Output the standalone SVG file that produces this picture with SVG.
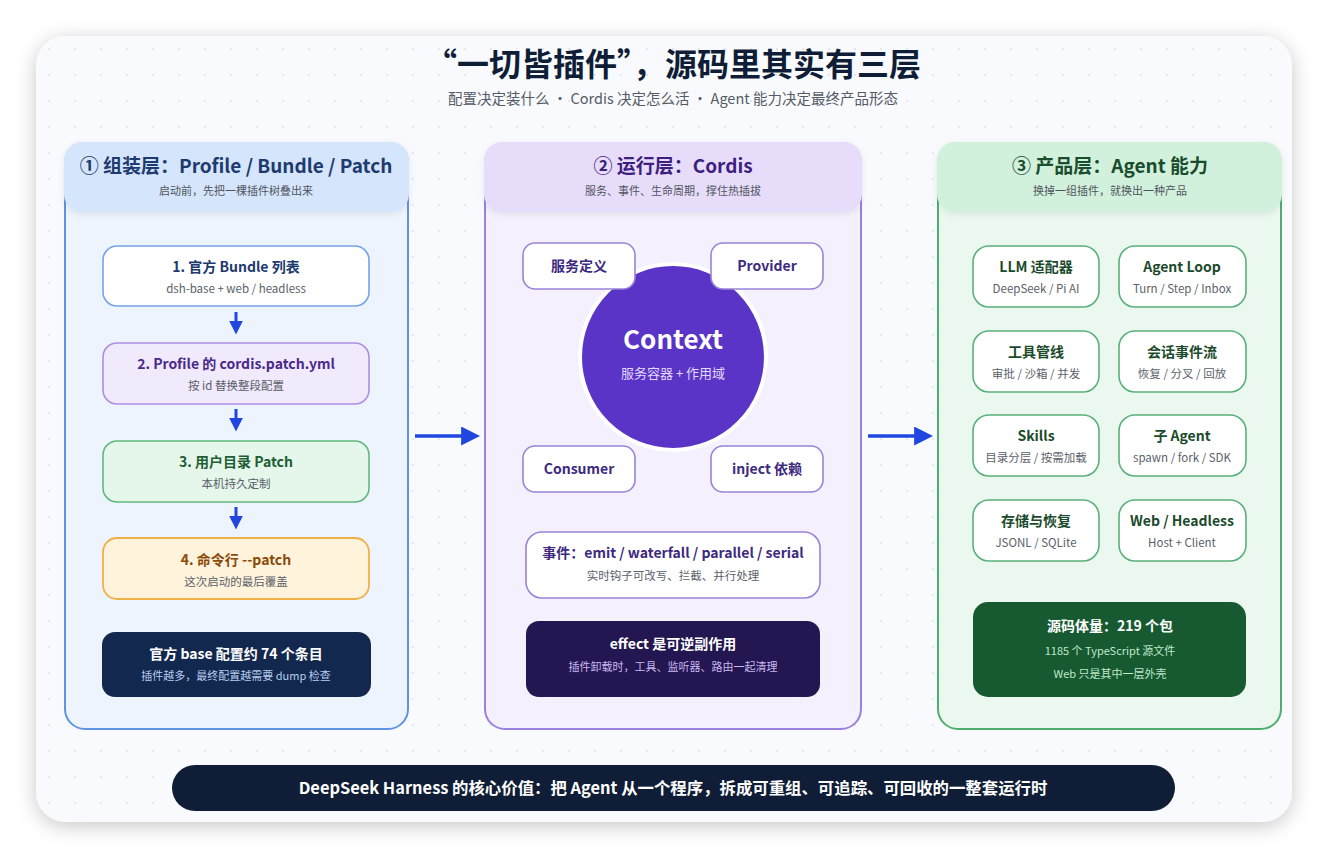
<svg xmlns="http://www.w3.org/2000/svg" width="1328" height="858" viewBox="0 0 1328 858">
<defs>
<filter id="sh" x="-10%" y="-10%" width="120%" height="120%"><feDropShadow dx="0" dy="4" stdDeviation="10" flood-color="#000" flood-opacity="0.22"/></filter>
<filter id="hs" x="-10%" y="-20%" width="120%" height="150%"><feDropShadow dx="0" dy="2" stdDeviation="3" flood-color="#000" flood-opacity="0.08"/></filter>
<pattern id="dots" width="26" height="26" patternUnits="userSpaceOnUse" x="36" y="36"><circle cx="13" cy="13" r="1.1" fill="#dde3ec"/></pattern>
<marker id="ahs" viewBox="0 0 10 10" refX="1" refY="5" markerWidth="14" markerHeight="14" markerUnits="userSpaceOnUse" orient="auto"><path d="M0,0 L10,5 L0,10 z" fill="#2146e0"/></marker>
<marker id="ahl" viewBox="0 0 10 10" refX="1" refY="5" markerWidth="19" markerHeight="19" markerUnits="userSpaceOnUse" orient="auto"><path d="M0,0 L10,5 L0,10 z" fill="#2146e0"/></marker>
</defs>
<style>
text{font-family:"Noto Sans CJK SC","Noto Sans",sans-serif;text-anchor:middle}
.t{font-size:14px;font-weight:700}
.s{font-size:11.5px;fill:#5a5f6a}
.ht{font-size:19px;font-weight:700}
.hs{font-size:11px;fill:#4f5560}
.cw{fill:#ffffff;font-size:14px;font-weight:700}
.cs{font-size:11px}
</style>
<rect width="1328" height="858" fill="#ffffff"/>
<g id="card">
<rect x="36" y="36" width="1256" height="786" rx="30" fill="#f8fafd" filter="url(#sh)"/>
<rect x="36" y="36" width="1256" height="786" rx="30" fill="url(#dots)"/>
</g>
<g id="title">
<text x="673" y="76" style="font-size:32px;font-weight:700;fill:#0f1e36">“一切皆插件”，源码里其实有三层</text>
<text x="673" y="104" style="font-size:14.5px;fill:#555b66">配置决定装什么 · Cordis 决定怎么活 · Agent 能力决定最终产品形态</text>
</g>

<g id="panel1">
<rect x="65" y="143" width="343" height="586" rx="20" fill="#edf4fd" stroke="#5f93e3" stroke-width="2"/>
<rect x="64" y="142" width="345" height="70" rx="18" fill="#d5e5fb" filter="url(#hs)"/>
<text x="236" y="173" class="ht" fill="#1e3a6e">① 组装层：Profile / Bundle / Patch</text>
<text x="236" y="195" class="hs">启动前，先把一棵插件树叠出来</text>
</g>
<g id="p1-box1">
<rect x="103" y="246" width="266" height="60" rx="14" fill="#ffffff" stroke="#74a4e8" stroke-width="1.6"/>
<text x="236" y="272" class="t" fill="#1e3a6e">1. 官方 Bundle 列表</text>
<text x="236" y="293" class="s">dsh-base + web / headless</text>
</g>
<g id="p1-box2">
<rect x="103" y="343" width="266" height="61" rx="14" fill="#f1e9fc" stroke="#ac8fe2" stroke-width="1.6"/>
<text x="236" y="369" class="t" fill="#4a2a8a">2. Profile 的 cordis.patch.yml</text>
<text x="236" y="390" class="s">按 id 替换整段配置</text>
</g>
<g id="p1-box3">
<rect x="103" y="441" width="266" height="61" rx="14" fill="#e5f6ea" stroke="#62b97d" stroke-width="1.6"/>
<text x="236" y="467" class="t" fill="#1e5e34">3. 用户目录 Patch</text>
<text x="236" y="488" class="s">本机持久定制</text>
</g>
<g id="p1-box4">
<rect x="103" y="538" width="266" height="61" rx="14" fill="#fff3dc" stroke="#f0b048" stroke-width="1.8"/>
<text x="236" y="565" class="t" fill="#8a4a0a">4. 命令行 --patch</text>
<text x="236" y="586" class="s">这次启动的最后覆盖</text>
</g>
<g id="p1-note">
<rect x="102" y="632" width="269" height="65" rx="13" fill="#13284e"/>
<text x="236" y="659" class="cw">官方 base 配置约 74 个条目</text>
<text x="236" y="680" class="cs" fill="#b9cdf0">插件越多，最终配置越需要 dump 检查</text>
</g>

<g id="panel2">
<rect x="485" y="143" width="376" height="586" rx="20" fill="#f4f0fd" stroke="#9a80df" stroke-width="2"/>
<rect x="484" y="142" width="378" height="70" rx="18" fill="#e8dcfb" filter="url(#hs)"/>
<text x="673" y="173" class="ht" fill="#3d1f80">② 运行层：Cordis</text>
<text x="673" y="195" class="hs">服务、事件、生命周期，撑住热插拔</text>
</g>
<g id="context">
<circle cx="673" cy="357" r="93" fill="#5a34c6" stroke="#ffffff" stroke-width="4"/>
<text x="673" y="349" style="font-size:26px;font-weight:700;fill:#ffffff">Context</text>
<text x="673" y="378" style="font-size:13px;fill:#e2d9ff">服务容器 + 作用域</text>
</g>
<g id="svc-def">
<rect x="523" y="243" width="112" height="46" rx="12" fill="#ffffff" stroke="#9b82d8" stroke-width="1.6"/>
<text x="579" y="271" class="t" fill="#3d2a80">服务定义</text>
</g>
<g id="provider">
<rect x="711" y="243" width="112" height="46" rx="12" fill="#ffffff" stroke="#9b82d8" stroke-width="1.6"/>
<text x="767" y="271" class="t" fill="#3d2a80">Provider</text>
</g>
<g id="consumer">
<rect x="523" y="446" width="112" height="46" rx="12" fill="#ffffff" stroke="#9b82d8" stroke-width="1.6"/>
<text x="579" y="474" class="t" fill="#3d2a80">Consumer</text>
</g>
<g id="inject">
<rect x="711" y="446" width="112" height="46" rx="12" fill="#ffffff" stroke="#9b82d8" stroke-width="1.6"/>
<text x="767" y="474" class="t" fill="#3d2a80">inject 依赖</text>
</g>
<g id="events">
<rect x="526" y="532" width="294" height="66" rx="16" fill="#ffffff" stroke="#9b82d8" stroke-width="1.6"/>
<text x="673" y="558" class="t" fill="#3d2a80">事件：emit / waterfall / parallel / serial</text>
<text x="673" y="580" class="s">实时钩子可改写、拦截、并行处理</text>
</g>
<g id="effect">
<rect x="526" y="621" width="294" height="76" rx="13" fill="#241650"/>
<text x="673" y="649" class="cw">effect 是可逆副作用</text>
<text x="673" y="671" class="cs" fill="#c8b9f0">插件卸载时，工具、监听器、路由一起清理</text>
</g>

<g id="panel3">
<rect x="938" y="143" width="343" height="586" rx="20" fill="#eaf8f0" stroke="#4fae6f" stroke-width="2"/>
<rect x="937" y="142" width="345" height="70" rx="18" fill="#d2f1dc" filter="url(#hs)"/>
<text x="1110" y="173" class="ht" fill="#1a4d2e">③ 产品层：Agent 能力</text>
<text x="1110" y="195" class="hs">换掉一组插件，就换出一种产品</text>
</g>
<g id="llm">
<rect x="973" y="246" width="126" height="61" rx="16" fill="#ffffff" stroke="#5ab07a" stroke-width="1.6"/>
<text x="1036" y="272" class="t" fill="#1c4a2c">LLM 适配器</text>
<text x="1036" y="293" class="s">DeepSeek / Pi AI</text>
</g>
<g id="agentloop">
<rect x="1119" y="246" width="127" height="61" rx="16" fill="#ffffff" stroke="#5ab07a" stroke-width="1.6"/>
<text x="1182" y="272" class="t" fill="#1c4a2c">Agent Loop</text>
<text x="1182" y="293" class="s">Turn / Step / Inbox</text>
</g>
<g id="tools">
<rect x="973" y="331" width="126" height="61" rx="16" fill="#ffffff" stroke="#5ab07a" stroke-width="1.6"/>
<text x="1036" y="357" class="t" fill="#1c4a2c">工具管线</text>
<text x="1036" y="378" class="s">审批 / 沙箱 / 并发</text>
</g>
<g id="session">
<rect x="1119" y="331" width="127" height="61" rx="16" fill="#ffffff" stroke="#5ab07a" stroke-width="1.6"/>
<text x="1182" y="357" class="t" fill="#1c4a2c">会话事件流</text>
<text x="1182" y="378" class="s">恢复 / 分叉 / 回放</text>
</g>
<g id="skills">
<rect x="973" y="415" width="126" height="61" rx="16" fill="#ffffff" stroke="#5ab07a" stroke-width="1.6"/>
<text x="1036" y="441" class="t" fill="#1c4a2c">Skills</text>
<text x="1036" y="462" class="s">目录分层 / 按需加载</text>
</g>
<g id="subagent">
<rect x="1119" y="415" width="127" height="61" rx="16" fill="#ffffff" stroke="#5ab07a" stroke-width="1.6"/>
<text x="1182" y="441" class="t" fill="#1c4a2c">子 Agent</text>
<text x="1182" y="462" class="s">spawn / fork / SDK</text>
</g>
<g id="storage">
<rect x="973" y="500" width="126" height="61" rx="16" fill="#ffffff" stroke="#5ab07a" stroke-width="1.6"/>
<text x="1036" y="526" class="t" fill="#1c4a2c">存储与恢复</text>
<text x="1036" y="547" class="s">JSONL / SQLite</text>
</g>
<g id="web">
<rect x="1119" y="500" width="127" height="61" rx="16" fill="#ffffff" stroke="#5ab07a" stroke-width="1.6"/>
<text x="1182" y="526" class="t" fill="#1c4a2c">Web / Headless</text>
<text x="1182" y="547" class="s">Host + Client</text>
</g>
<g id="size">
<rect x="973" y="602" width="273" height="95" rx="15" fill="#175a32"/>
<text x="1110" y="631" class="cw">源码体量：219 个包</text>
<text x="1110" y="655" class="cs" fill="#bfe8c9">1185 个 TypeScript 源文件</text>
<text x="1110" y="678" class="cs" fill="#bfe8c9">Web 只是其中一层外壳</text>
</g>

<g id="connectors" stroke="#2146e0" fill="none">
<line x1="236" y1="312" x2="236" y2="322" stroke-width="3" marker-end="url(#ahs)"/>
<line x1="236" y1="409" x2="236" y2="419" stroke-width="3" marker-end="url(#ahs)"/>
<line x1="236" y1="507" x2="236" y2="517" stroke-width="3" marker-end="url(#ahs)"/>
<line x1="415" y1="436" x2="463" y2="436" stroke-width="3.5" marker-end="url(#ahl)"/>
<line x1="868" y1="436" x2="916" y2="436" stroke-width="3.5" marker-end="url(#ahl)"/>
</g>

<g id="banner">
<rect x="172" y="765" width="1003" height="46" rx="23" fill="#0f1e36"/>
<text x="673" y="794" style="font-size:16.4px;font-weight:700;fill:#ffffff">DeepSeek Harness 的核心价值：把 Agent 从一个程序，拆成可重组、可追踪、可回收的一整套运行时</text>
</g>
</svg>
